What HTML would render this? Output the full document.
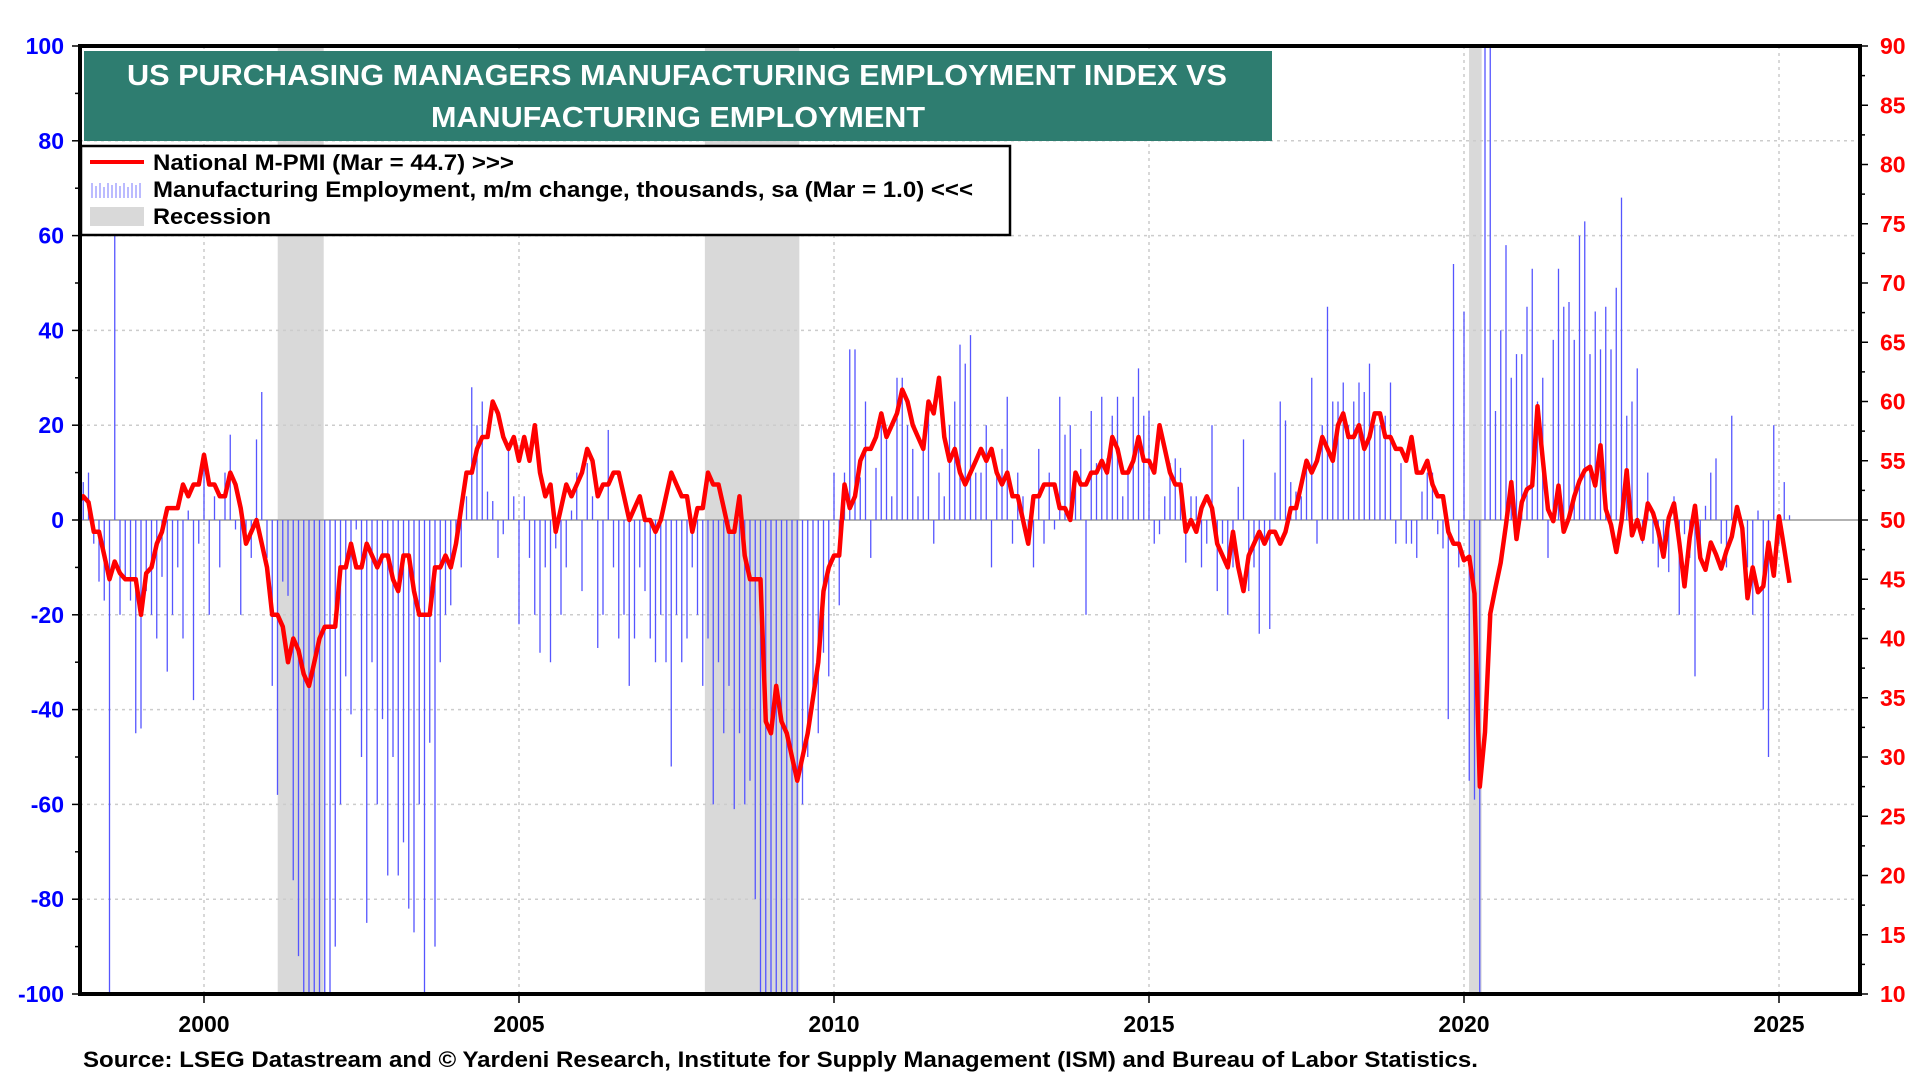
<!DOCTYPE html>
<html><head><meta charset="utf-8"><style>
html,body{margin:0;padding:0;background:#fff;width:1920px;height:1080px;overflow:hidden}
svg{display:block;font-family:"Liberation Sans",Arial,sans-serif}
</style></head><body>
<svg id="chart" width="1920" height="1080"></svg>
<script>
const startYear = 1998;
const pmi = [
51.5,52,51.5,49,49,47,45,46.5,45.5,45,45,45,
42,45.5,46,48,49,51,51,51,53,52,53,53,
55.5,53,53,52,52,54,53,51,48,49,50,48,
46,42,42,41,38,40,39,37,36,38,40,41,
41,41,46,46,48,46,46,48,47,46,47,47,
45,44,47,47,44,42,42,42,46,46,47,46,
48,51,54,54,56,57,57,60,59,57,56,57,
55,57,55,58,54,52,53,49,51,53,52,53,
54,56,55,52,53,53,54,54,52,50,51,52,
50,50,49,50,52,54,53,52,52,49,51,51,
54,53,53,51,49,49,52,47,45,45,45,33,
32,36,33,32,30,28,30,32,35,38,44,46,
47,47,53,51,52,55,56,56,57,59,57,58,
59,61,60,58,57,56,60,59,62,57,55,56,
54,53,54,55,56,55,56,54,53,54,52,52,
50,48,52,52,53,53,53,51,51,50,54,53,
53,54,54,55,54,57,56,54,54,55,57,55,
55,54,58,56,54,53,53,49,50,49,51,52,
51,48,47,46,49,46,44,47,48,49,48,49,
49,48,49,51,51,53,55,54,55,57,56,55,
58,59,57,57,58,56,57,59,59,57,57,56,
56,55,57,54,54,55,53,52,52,49,48,48,
46.6,46.9,43.8,27.5,32.1,42.1,44.3,46.4,49.6,53.2,48.4,51.5,
52.6,52.9,59.6,55.1,50.9,49.9,52.9,49.0,50.2,52.0,53.3,54.2,
54.5,52.9,56.3,50.9,49.6,47.3,49.9,54.2,48.7,50.0,48.4,51.4,
50.6,49.1,46.9,50.2,51.4,48.1,44.4,48.5,51.2,46.8,45.8,48.1,
47.1,45.9,47.4,48.6,51.1,49.3,43.4,46.0,43.9,44.4,48.1,45.3,
50.3,47.6,44.7];
const employment = [
30,8,10,-5,-13,-17,-100,60,-20,-12,-17,-45,
-44,-15,-20,-25,-12,-32,-20,-10,-25,2,-38,-5,
14,-20,5,-10,10,18,-2,-20,-5,-8,17,27,
-8,-35,-58,-13,-16,-76,-92,-100,-100,-100,-100,-100,
-100,-90,-60,-33,-41,-2,-50,-85,-30,-60,-42,-75,
-50,-75,-68,-82,-87,-60,-100,-47,-90,-30,-20,-18,
-5,-10,5,28,20,25,6,4,-8,-3,16,5,
-22,5,-8,-20,-28,-10,-30,-6,-20,-10,2,10,
-15,12,5,-27,-20,19,-10,-25,-20,-35,-25,-10,
-15,-25,-30,-20,-30,-52,-20,-30,-25,-10,-20,-35,
-25,-60,-30,-45,-35,-61,-45,-60,-55,-80,-100,-100,
-100,-100,-100,-100,-100,-100,-60,-50,-40,-45,-28,-33,
10,-18,10,36,36,9,25,-8,11,20,17,5,
30,30,20,15,5,15,25,-5,10,5,20,25,
37,33,39,10,10,20,-10,10,15,26,-5,10,
5,-5,-10,15,-5,10,-2,26,18,20,10,15,
-20,23,12,26,13,22,26,5,10,26,32,22,
23,-5,-3,5,12,13,11,-9,5,5,-10,-5,
20,-15,-5,-20,-10,7,17,-15,-10,-24,-5,-23,
10,25,21,8,6,5,13,30,-5,20,45,25,
25,29,20,25,29,27,33,20,20,22,29,-5,
12,-5,-5,-8,6,10,10,-3,-6,-42,54,-10,
44,-55,-59,-100,100,100,23,40,58,30,35,35,
45,53,25,30,-8,38,53,45,46,38,60,63,
35,44,36,45,36,49,68,22,25,32,-5,10,
-5,-10,-5,-11,5,-20,-3,-8,-33,-5,3,10,
13,-5,-10,22,0,-5,-10,-20,2,-40,-50,20,
-5,8,1];
const recessions = [[2001.17,2001.9],[2007.95,2009.45],[2020.08,2020.28]];
const leftTicks = [100,80,60,40,20,0,-20,-40,-60,-80,-100];
const rightTicks = [90,85,80,75,70,65,60,55,50,45,40,35,30,25,20,15,10];
const yearTicks = [2000,2005,2010,2015,2020,2025];

const L=80,R=1860,T=46,B=994;
const x0=2025,x0px=1779,pxYear=63.0;
const X=t=>x0px+(t-x0)*pxYear;
const YL=v=>T+(100-v)/200*(B-T);
const YR=v=>T+(90-v)/80*(B-T);
const NS='http://www.w3.org/2000/svg';
const svg=document.getElementById('chart');
function mk(tag,attrs,parent){const e=document.createElementNS(NS,tag);for(const k in attrs)e.setAttribute(k,attrs[k]);(parent||svg).appendChild(e);return e;}

const defs=mk('defs',{});
const cp=mk('clipPath',{id:'pc'},defs);mk('rect',{x:L,y:T,width:R-L,height:B-T},cp);

recessions.forEach(r=>{const e=mk('rect',{x:X(r[0]),y:T,width:X(r[1])-X(r[0]),height:B-T,fill:'#d9d9d9'});

});

leftTicks.forEach(v=>{if(v===100||v===-100)return;const e=mk('line',{x1:L,x2:R,y1:YL(v),y2:YL(v),stroke:v===0?'#999':'#ccc','stroke-width':1.5,'stroke-dasharray':v===0?'':'3,4'});

});
yearTicks.forEach(y=>{const e=mk('line',{x1:X(y),x2:X(y),y1:T,y2:B,stroke:'#ccc','stroke-width':1.5,'stroke-dasharray':'3,4'});

});

const gb=mk('g',{'clip-path':'url(#pc)'});


employment.forEach((v,i)=>{const t=startYear+i/12;const e=mk('line',{x1:X(t),x2:X(t),y1:YL(0),y2:YL(Math.max(-101,Math.min(101,v))),stroke:'#5555ff','stroke-width':1.3},gb);

});

const pts=pmi.map((v,i)=>X(startYear+i/12).toFixed(1)+','+YR(v).toFixed(1)).join(' ');
const pl=mk('polyline',{points:pts,fill:'none',stroke:'#ff0000','stroke-width':4.5,'stroke-linejoin':'round','clip-path':'url(#pc)'});



const fr=mk('rect',{x:L,y:T,width:R-L,height:B-T,fill:'none',stroke:'#000','stroke-width':4});



for(let v=-100;v<=100;v+=10){mk('line',{x1:L-(v%20===0?8:5),x2:L,y1:YL(v),y2:YL(v),stroke:'#000','stroke-width':1.5});}
leftTicks.forEach(v=>{const e=mk('text',{x:L-16,y:YL(v)+8,'text-anchor':'end','font-size':23,'font-weight':'bold',fill:'#0000ff'});e.textContent=v;

});
for(let v=10;v<=90;v+=2.5){mk('line',{x1:R,x2:R+(v%5===0?8:5),y1:YR(v),y2:YR(v),stroke:'#000','stroke-width':1.5});}
rightTicks.forEach(v=>{const e=mk('text',{x:R+20,y:YR(v)+8,'font-size':23,'font-weight':'bold',fill:'#ff0000'});e.textContent=v;

});
yearTicks.forEach(y=>{mk('line',{x1:X(y),x2:X(y),y1:B,y2:B+9,stroke:'#000','stroke-width':1.5});
const e=mk('text',{x:X(y),y:B+38,'text-anchor':'middle','font-size':23,'font-weight':'bold',fill:'#000'});e.textContent=y;

});
</script>
<svg style="position:absolute;left:0;top:0" width="1920" height="1080">
<g>
<rect x="84" y="51" width="1188" height="90" fill="#2e7d70"/>
<text x="127" y="85" textLength="1100" lengthAdjust="spacingAndGlyphs" font-family="Liberation Sans, Arial, sans-serif" font-size="29" font-weight="bold" fill="#fff">US PURCHASING MANAGERS MANUFACTURING EMPLOYMENT INDEX VS</text>
<text x="431" y="127" textLength="494" lengthAdjust="spacingAndGlyphs" font-family="Liberation Sans, Arial, sans-serif" font-size="29" font-weight="bold" fill="#fff">MANUFACTURING EMPLOYMENT</text>
</g>
<g font-family="Liberation Sans, Arial, sans-serif" font-size="22" font-weight="bold">
<rect x="81" y="146" width="929" height="89" fill="#fff" stroke="#000" stroke-width="2.5"/>
<line x1="90" y1="162" x2="144" y2="162" stroke="#f00" stroke-width="4"/>
<text x="153" y="170" textLength="361" lengthAdjust="spacingAndGlyphs">National M-PMI (Mar = 44.7) &gt;&gt;&gt;</text>
<g stroke="#7777ff" stroke-width="1"><line x1="92" y1="198" x2="92" y2="183"/><line x1="96" y1="198" x2="96" y2="186"/><line x1="100" y1="198" x2="100" y2="183"/><line x1="104" y1="198" x2="104" y2="187"/><line x1="108" y1="198" x2="108" y2="183"/><line x1="112" y1="198" x2="112" y2="185"/><line x1="116" y1="198" x2="116" y2="183"/><line x1="120" y1="198" x2="120" y2="186"/><line x1="124" y1="198" x2="124" y2="183"/><line x1="128" y1="198" x2="128" y2="187"/><line x1="132" y1="198" x2="132" y2="183"/><line x1="136" y1="198" x2="136" y2="185"/><line x1="140" y1="198" x2="140" y2="183"/></g>
<text x="153" y="197" textLength="820" lengthAdjust="spacingAndGlyphs">Manufacturing Employment, m/m change, thousands, sa (Mar = 1.0) &lt;&lt;&lt;</text>
<rect x="90" y="207" width="54" height="19" fill="#d9d9d9"/>
<text x="153" y="224" textLength="118" lengthAdjust="spacingAndGlyphs">Recession</text>
</g>
<text x="83" y="1067" textLength="1395" lengthAdjust="spacingAndGlyphs" font-family="Liberation Sans, Arial, sans-serif" font-size="22" font-weight="bold">Source: LSEG Datastream and © Yardeni Research, Institute for Supply Management (ISM) and Bureau of Labor Statistics.</text>
</svg>
</body></html>
